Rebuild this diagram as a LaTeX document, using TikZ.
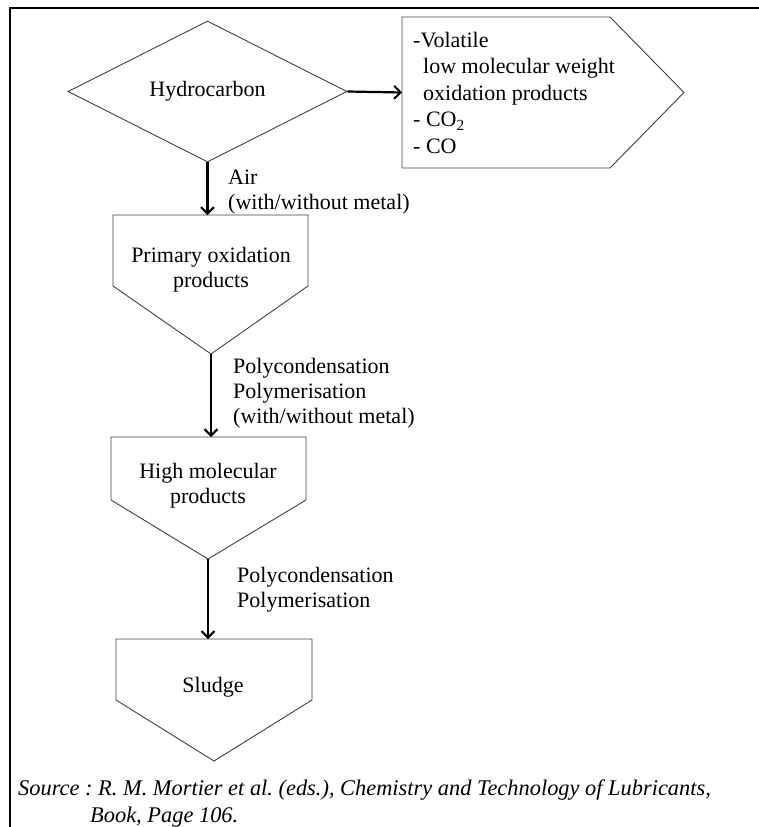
\documentclass[tikz,border=0pt]{standalone}
\usepackage{fontspec}
\setmainfont{Liberation Serif}
\usetikzlibrary{shapes.geometric,arrows.meta}
\begin{document}
\frenchspacing
\begin{tikzpicture}[x=1pt,y=-1pt,
  shapeline/.style={draw=black!75, line width=0.9pt, line join=miter},
  flow/.style={line width=2.2pt, -{Straight Barb[length=6.5pt,width=13pt,line width=2pt]}},
  txt/.style={font=\fontsize{22}{25}\selectfont, inner sep=0pt},
  lbl/.style={txt, align=left, anchor=north west},
  boxtxt/.style={txt, align=center, anchor=north},
  src/.style={font=\fontsize{22.4}{27}\selectfont\itshape, inner sep=0pt, align=left, anchor=north west}
]
\useasboundingbox (0,0) rectangle (759,827);
% frame
\draw[line width=2.4pt] (10,827) -- (10,8) -- (759,8);

% hydrocarbon diamond
\node[diamond, shapeline, minimum width=279pt, minimum height=141pt, inner sep=0pt, txt] (hc) at (207.5,91.5) {Hydrocarbon};

% volatile products pentagon
\draw[shapeline] (402,17) -- (610,17) -- (684,92.5) -- (610,168) -- (402,168) -- cycle;
\coordinate (volW) at (402,92.5);
\node[lbl, font=\fontsize{22}{26.5}\selectfont] (voltxt) at (413,32) {-Volatile\\\hspace*{10pt}low molecular weight\\\hspace*{10pt}oxidation products\\- CO\textsubscript{2}\\- CO};

% primary oxidation products
\draw[shapeline] (113,215) -- (308,215) -- (308,286) -- (211,354) -- (113,286) -- cycle;
\coordinate (poT) at (207.5,215);
\coordinate (poB) at (211,354);
\node[boxtxt] (potxt) at (211,247) {Primary oxidation\\products};

% high molecular products
\draw[shapeline] (111,437) -- (306,437) -- (306,500) -- (208,559) -- (111,500) -- cycle;
\coordinate (hmT) at (211,437);
\coordinate (hmB) at (208,559);
\node[boxtxt] (hmtxt) at (208,463) {High molecular\\products};

% sludge
\draw[shapeline] (116,639) -- (312,639) -- (312,700) -- (214,761) -- (116,700) -- cycle;
\coordinate (slT) at (208,639);
\node[txt, anchor=base] (sltxt) at (213,692) {Sludge};

% connectors
\draw[flow] (hc.east) -- (volW);
\draw[flow] (hc.south) -- (poT);
\draw[flow] (poB) -- (hmT);
\draw[flow] (hmB) -- (slT);

% connector labels
\node[lbl] (l1) at (228,170) {Air\\(with/without metal)};
\node[lbl] (l2) at (233,358) {Polycondensation\\Polymerisation\\(with/without metal)};
\node[lbl] (l3) at (237,567) {Polycondensation\\Polymerisation};

% source
\node[src] (source) at (18,780) {Source : R. M. Mortier et al. (eds.), Chemistry and Technology of Lubricants,\\\hspace*{72pt}Book, Page 106.};
\end{tikzpicture}
\end{document}
